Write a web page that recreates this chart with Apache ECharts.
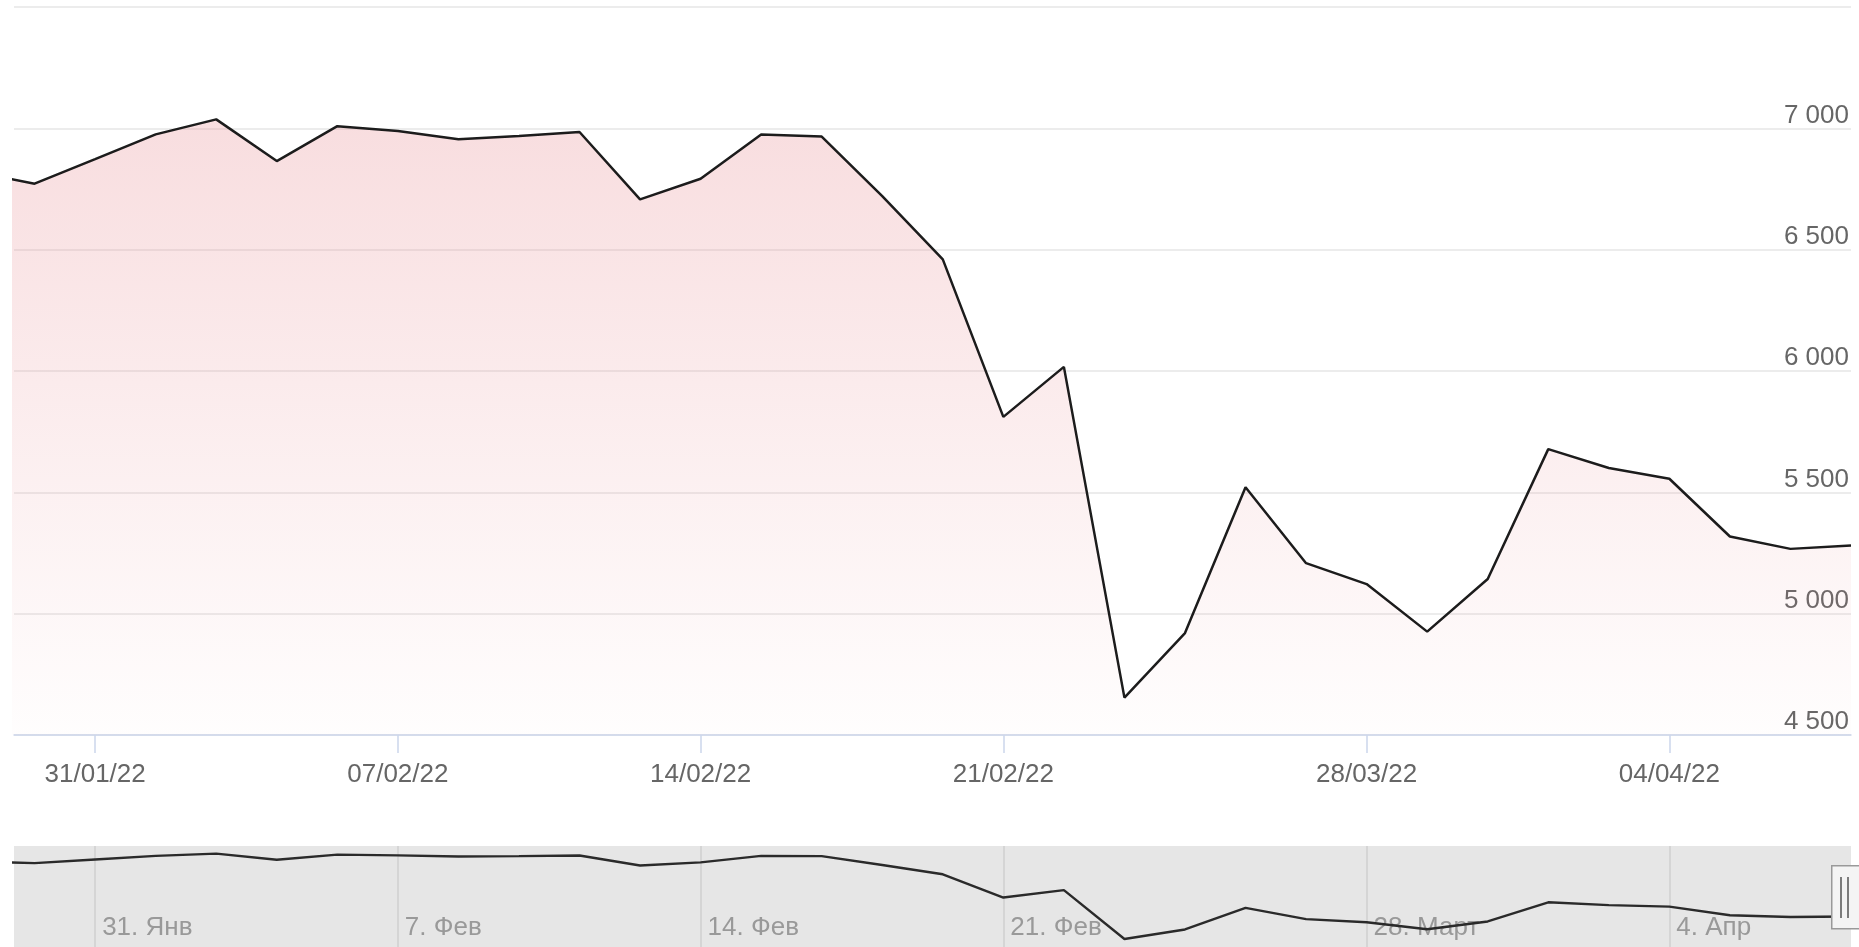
<!DOCTYPE html>
<html>
<head>
<meta charset="utf-8">
<script src="https://cdn.jsdelivr.net/npm/echarts@6/dist/echarts.min.js"></script>
<style>
  html, body { margin: 0; padding: 0; background: #ffffff; }
  #chart { width: 1859px; height: 947px; }
</style>
</head>
<body>
<div id="chart"></div>
<script>
// Trading days (market closed 25/02 – 23/03)
const dates = ['27/01','28/01','31/01','01/02','02/02','03/02','04/02','07/02','08/02','09/02','10/02','11/02',
               '14/02','15/02','16/02','17/02','18/02','21/02','22/02','24/02','25/02',
               '24/03','25/03','28/03','29/03','30/03','31/03','01/04','04/04','05/04','06/04','07/04'];
const values = [6820, 6772, 6873, 6975, 7037, 6865, 7009, 6989, 6955, 6968, 6985, 6707,
                6792, 6975, 6966, 6721, 6460, 5811, 6017, 4654, 4920,
                5521, 5208, 5122, 4926, 5143, 5678, 5600, 5556, 5318, 5267, 5281];

const tickDates = ['31/01','07/02','14/02','21/02','28/03','04/04'];
const mainTickLabels = ['31/01/22','07/02/22','14/02/22','21/02/22','28/03/22','04/04/22'];
const navTickLabels = ['31. Янв','7. Фев','14. Фев','21. Фев','28. Март','4. Апр'];
const yTickValues = [4500, 5000, 5500, 6000, 6500, 7000, 7500];

const tickIdx = tickDates.map(d => dates.indexOf(d));
const seriesData = values.map((v, i) => [i, v]);
const fmtThousands = v => String(v).replace(/\B(?=(\d{3})+(?!\d))/g, ' ');

const FONT = "'Liberation Sans', Arial, sans-serif";
const X_MIN = 0.66, X_MAX = dates.length - 1;

const chart = echarts.init(document.getElementById('chart'), null, { renderer: 'canvas' });
chart.setOption({
  animation: false,
  backgroundColor: '#ffffff',
  grid: [
    { left: 14, right: 8, top: 7, height: 728 },
    { left: 14, right: 8, top: 846, bottom: 0, show: true, backgroundColor: '#e6e6e6', borderWidth: 0 }
  ],
  xAxis: [
    {
      type: 'value', gridIndex: 0, min: X_MIN, max: X_MAX,
      axisLine: { show: true, lineStyle: { color: '#ccd6eb', width: 1.5 } },
      axisTick: { show: true, customValues: tickIdx, length: 18, lineStyle: { color: '#ccd6eb', width: 1.5 } },
      axisLabel: {
        customValues: tickIdx, margin: 27, color: '#666666', fontSize: 26, fontFamily: FONT,
        formatter: v => mainTickLabels[tickIdx.indexOf(Math.round(v))] || ''
      },
      splitLine: { show: false }
    },
    {
      type: 'value', gridIndex: 1, min: X_MIN, max: X_MAX,
      axisLine: { show: false },
      axisTick: { show: true, inside: true, customValues: tickIdx, length: 101, lineStyle: { color: '#cfcfcf', width: 1.5 } },
      axisLabel: {
        inside: true, customValues: tickIdx, margin: 6, align: 'left', padding: [0, 0, 0, 7],
        color: '#999999', fontSize: 26, fontFamily: FONT,
        formatter: v => navTickLabels[tickIdx.indexOf(Math.round(v))] || ''
      },
      splitLine: { show: false }
    }
  ],
  yAxis: [
    {
      type: 'value', gridIndex: 0, position: 'right', min: 4500, max: 7500, interval: 500,
      axisLine: { show: false }, axisTick: { show: false },
      axisLabel: {
        inside: true, margin: 2, verticalAlign: 'bottom', showMaxLabel: false,
        color: '#666666', fontSize: 26, fontFamily: FONT,
        formatter: v => (v === yTickValues[yTickValues.length - 1] ? '' : fmtThousands(v))
      },
      splitLine: { show: true, lineStyle: { color: '#e6e6e6', width: 1.5 } }
    },
    {
      type: 'value', gridIndex: 1, min: 4430, max: 7250,
      axisLine: { show: false }, axisTick: { show: false }, axisLabel: { show: false },
      splitLine: { show: false }
    }
  ],
  series: [
    {
      type: 'line', xAxisIndex: 0, yAxisIndex: 0, data: seriesData,
      showSymbol: false, clip: true,
      lineStyle: { color: '#1c1c1c', width: 2.5 },
      areaStyle: {
        origin: 'start',
        color: new echarts.graphic.LinearGradient(0, 0, 0, 1, [
          { offset: 0, color: 'rgba(232,140,146,0.42)' },
          { offset: 1, color: 'rgba(232,140,146,0.02)' }
        ])
      },
      z: 3
    },
    {
      type: 'line', xAxisIndex: 1, yAxisIndex: 1, data: seriesData,
      showSymbol: false, clip: true,
      lineStyle: { color: '#2a2a2a', width: 2.4 },
      z: 3
    }
  ],
  graphic: [
    { type: 'rect', left: 1831, top: 865, shape: { width: 34, height: 63 },
      style: { fill: '#f4f4f4', stroke: '#999999', lineWidth: 1.5 }, z: 10 },
    { type: 'line', shape: { x1: 1841, y1: 877, x2: 1841, y2: 918 },
      style: { stroke: '#555555', lineWidth: 1.5 }, z: 11 },
    { type: 'line', shape: { x1: 1848, y1: 877, x2: 1848, y2: 918 },
      style: { stroke: '#555555', lineWidth: 1.5 }, z: 11 }
  ]
});
</script>
</body>
</html>
